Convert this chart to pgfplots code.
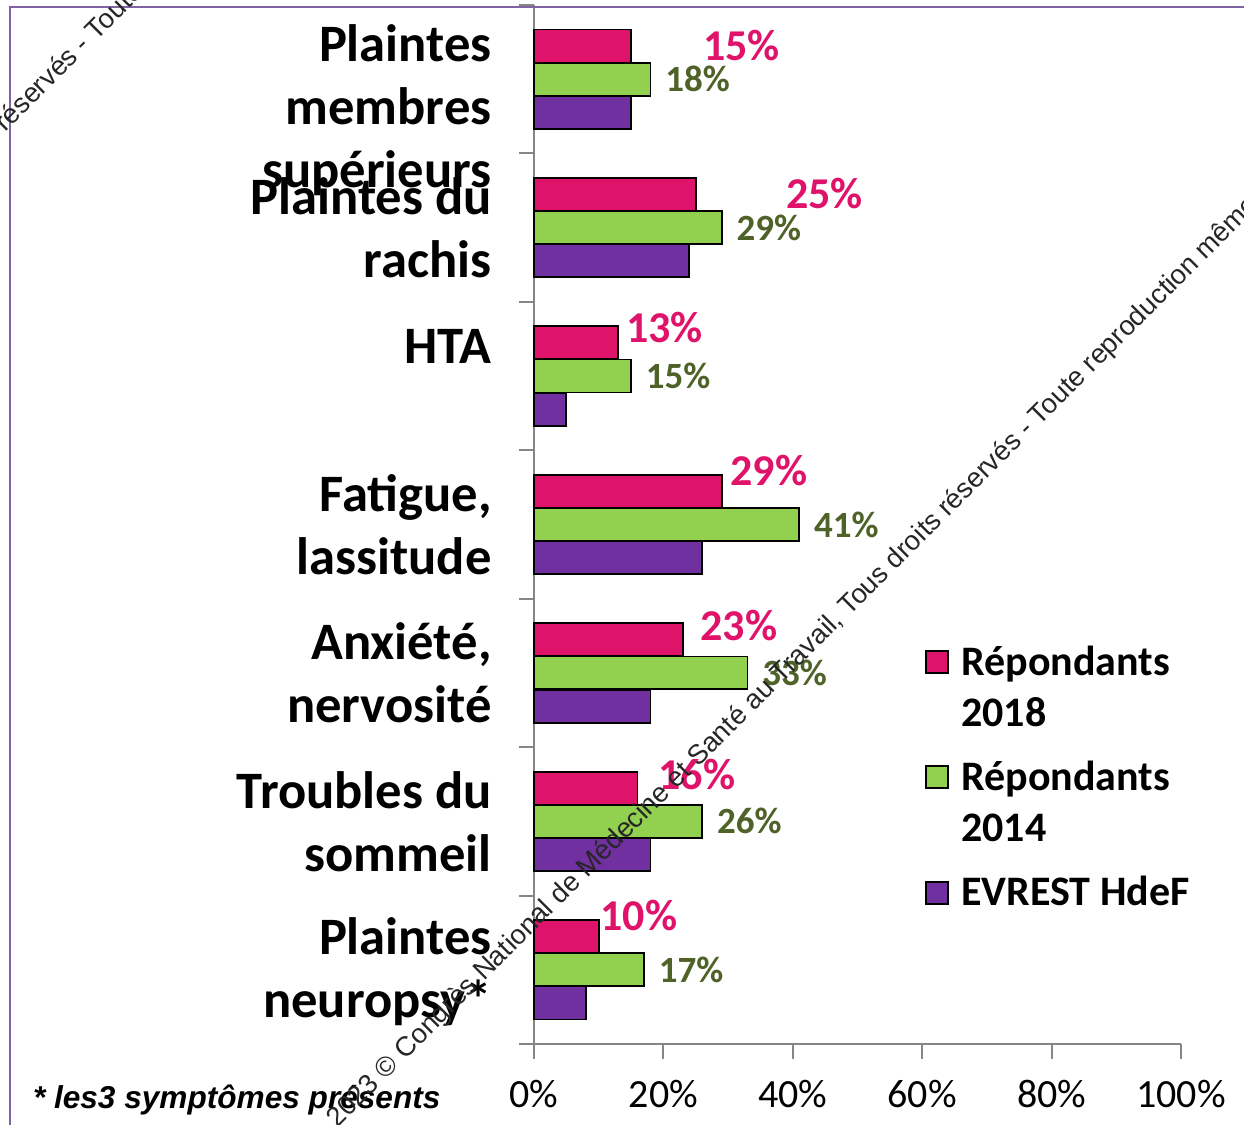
\documentclass[border=0pt]{standalone}
\usepackage{pgfplots}
\usepackage{pgfplotstable}
\pgfplotsset{compat=1.18}
\usepackage{fontspec}
\setmainfont{Carlito}
\newfontfamily\arialfont{Liberation Sans}
\definecolor{c18}{HTML}{E0136B}
\definecolor{c14}{HTML}{92D050}
\definecolor{cev}{HTML}{7030A0}
\definecolor{lab14}{HTML}{4F6228}
\definecolor{framec}{HTML}{8064A2}
\definecolor{axgray}{HTML}{868686}

\pgfplotstableread{
y v18 v14 vev
6 15 18 15
5 25 29 24
4 13 15 5
3 29 41 26
2 23 33 18
1 16 26 18
0 10 17 8
}\datatable

\begin{document}
\begin{tikzpicture}
\path[use as bounding box] (0,0) rectangle (622pt,562.5pt);
\begin{axis}[
  at={(267pt,40.5pt)}, anchor=south west,
  scale only axis, width=323.5pt, height=519.5pt,
  xmin=0, xmax=100, ymin=-0.5, ymax=6.5,
  clip=false,
  axis x line*=bottom, axis y line*=left,
  axis line style={axgray, line width=1pt, -},
  tick style={axgray, line width=1pt},
  tick align=outside, major tick length=7.5pt,
  xtick={0,20,40,60,80,100},
  xticklabels={0\%,20\%,40\%,60\%,80\%,100\%},
  xticklabel style={font=\fontsize{20}{24}\selectfont, inner sep=0pt, yshift=-10.5pt},
  ytick={-0.5,0.5,...,6.5},
  yticklabels={},
  xbar, bar width=0.222,
]
\addplot[fill=c18, draw=black, line width=0.9pt, bar shift=0.224] table[x=v18, y=y]{\datatable};
\addplot[fill=c14, draw=black, line width=0.9pt, bar shift=0,
  point meta=x,
  nodes near coords={\pgfmathprintnumber[assume math mode=true]{\pgfplotspointmeta}\%},
  every node near coord/.append style={font=\fontsize{18.5}{22}\selectfont\bfseries, text=lab14, anchor=west, inner sep=0pt, xshift=7pt}
  ] table[x=v14, y=y]{\datatable};
\addplot[fill=cev, draw=black, line width=0.9pt, bar shift=-0.224] table[x=vev, y=y]{\datatable};

% 2018 value labels
\begin{scope}[every node/.style={anchor=west, inner sep=0pt, text=c18, font=\fontsize{22}{26}\selectfont\bfseries}]
\node at (axis cs:26.1,6.224) {15\%};
\node at (axis cs:38.9,5.233) {25\%};
\node at (axis cs:14.2,4.330) {13\%};
\node at (axis cs:30.3,3.367) {29\%};
\node at (axis cs:25.7,2.322) {23\%};
\node at (axis cs:19.2,1.318) {16\%};
\node at (axis cs:10.2,0.368) {10\%};
\end{scope}

% category labels
\begin{scope}[every node/.style={anchor=east, align=right, inner sep=0pt, xshift=-21pt, font=\fontsize{26.3}{31.5}\selectfont\bfseries}]
\node at (axis cs:0,5.79) {Plaintes\\membres\\supérieurs};
\node at (axis cs:0,5.0) {Plaintes du\\rachis};
\node at (axis cs:0,4.202) {HTA};
\node at (axis cs:0,3.0) {Fatigue,\\lassitude};
\node at (axis cs:0,2.0) {Anxiété,\\nervosité};
\node at (axis cs:0,1.0) {Troubles du\\sommeil};
\node at (axis cs:0,-0.01) {Plaintes\\neuropsy*};
\end{scope}
\end{axis}

% legend
\draw[fill=c18, draw=black, line width=0.8pt] (463pt,226pt) rectangle (474pt,237pt);
\draw[fill=c14, draw=black, line width=0.8pt] (463pt,168.5pt) rectangle (474pt,179.5pt);
\draw[fill=cev, draw=black, line width=0.8pt] (463pt,110.5pt) rectangle (474pt,121.5pt);
\begin{scope}[every node/.style={anchor=base west, inner sep=0pt, font=\fontsize{21}{25.5}\selectfont\bfseries}]
\node at (480.5pt,224.5pt) {Répondants};
\node at (480.5pt,199pt) {2018};
\node at (480.5pt,167pt) {Répondants};
\node at (480.5pt,141.5pt) {2014};
\node at (480.5pt,109.5pt) {EVREST HdeF};
\end{scope}

% slide frame
\draw[framec, line width=1pt] (5pt,0pt) -- (5pt,559pt) -- (640pt,559pt);

% footnote
\node[anchor=base west, inner sep=0pt, font=\arialfont\bfseries\itshape\fontsize{15.8}{19}\selectfont] at (16.3pt,8.3pt) {* les3 symptômes présents};

% watermark
\begin{scope}
\clip (0,0) rectangle (622pt,562.5pt);
\node[rotate=45, anchor=base west, inner sep=0pt, text=black!85, font=\arialfont\fontsize{13.7}{16}\selectfont] at (168.5pt,-2pt) {2023 © Congrès National de Médecine et Santé au Travail, Tous droits réservés - Toute reproduction même partielle interdite};
\node[rotate=45, anchor=base west, inner sep=0pt, text=black!85, font=\arialfont\fontsize{13.7}{16}\selectfont] at (2.5pt,496pt) {réservés - Toute reproduction même partielle interdite};
\end{scope}
\end{tikzpicture}
\end{document}
